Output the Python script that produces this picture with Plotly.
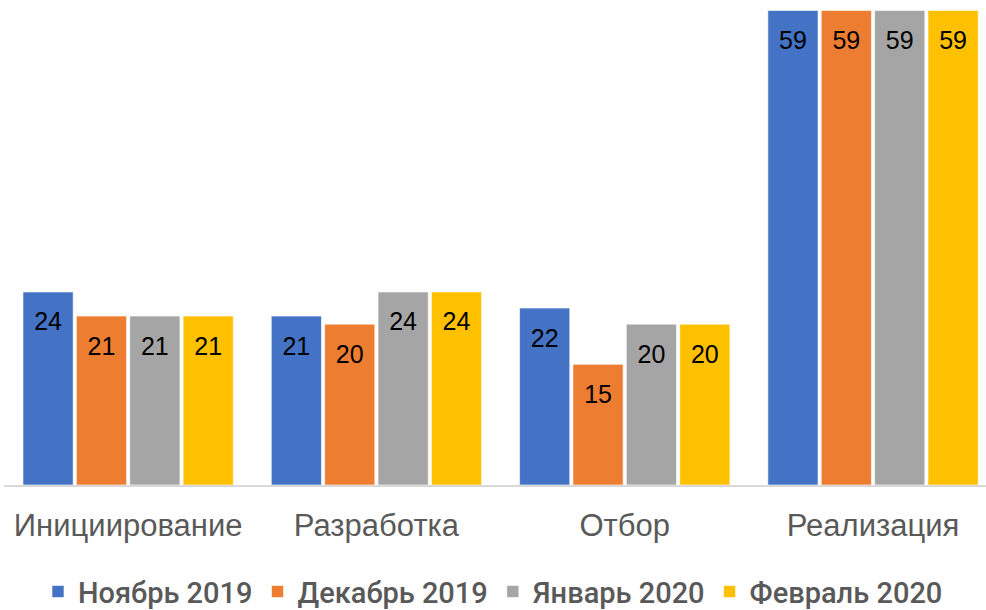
import plotly.graph_objects as go

categories = ["Инициирование", "Разработка", "Отбор", "Реализация"]
series_names = ["Ноябрь 2019", "Декабрь 2019", "Январь 2020", "Февраль 2020"]
nov_2019 = [24, 21, 22, 59]
dec_2019 = [21, 20, 15, 59]
jan_2020 = [21, 24, 20, 59]
feb_2020 = [21, 24, 20, 59]
colors = ["#4472C4", "#ED7D31", "#A5A5A5", "#FFC000"]

values = [nov_2019, dec_2019, jan_2020, feb_2020]

fig = go.Figure()
for i, (name, vals) in enumerate(zip(series_names, values)):
    fig.add_trace(go.Bar(
        x=categories, y=vals, name=name,
        marker=dict(color=colors[i], line=dict(color="rgba(255,255,255,0.6)", width=1)),
        offsetgroup=str(i), hoverinfo="skip",
    ))
for i, (name, vals) in enumerate(zip(series_names, values)):
    fig.add_trace(go.Scatter(
        x=categories, y=vals, mode="markers+text", text=[str(v) for v in vals],
        textposition="bottom center",
        textfont=dict(family="Liberation Sans, Arial", size=25, color="#000000"),
        marker=dict(size=30, opacity=0), offsetgroup=str(i),
        showlegend=False, hoverinfo="skip",
    ))

fig.update_layout(
    width=986, height=610,
    margin=dict(l=4, r=0, t=0, b=125, autoexpand=False),
    paper_bgcolor="white", plot_bgcolor="white",
    barmode="group", scattermode="group",
    bargap=0.14, bargroupgap=0.06,
    showlegend=True,
    legend=dict(orientation="h", xref="container", yref="container",
                x=0.5, xanchor="center", y=0.03, yanchor="middle",
                font=dict(family="Roboto", size=29, color="#595959", weight=500),
                itemwidth=30, tracegroupgap=0, bgcolor="rgba(0,0,0,0)"),
    font=dict(family="Liberation Sans, Arial"),
)
fig.update_xaxes(
    range=[-0.5, 3.455], showgrid=False, showline=True, linecolor="#D9D9D9", linewidth=2,
    ticks="", tickfont=dict(family="Liberation Sans, Arial", size=31, color="#595959"),
    ticklabelstandoff=12, automargin=False,
)
fig.update_yaxes(range=[0, 60.3], showgrid=False, showticklabels=False, zeroline=False,
                 automargin=False)

fig.write_html("out.html", config={"displayModeBar": False},
               post_script="document.body.style.margin='0';document.body.style.overflow='hidden';")
